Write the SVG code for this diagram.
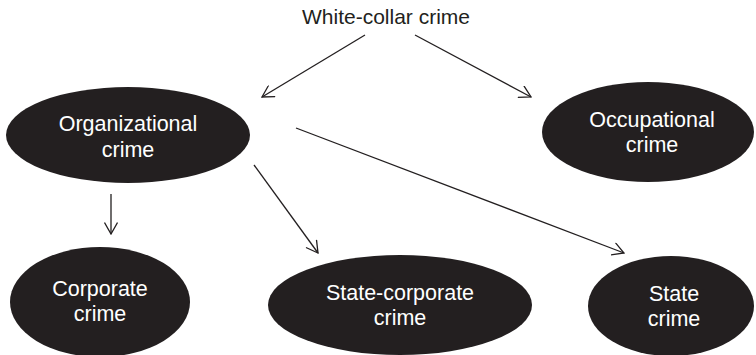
<svg xmlns="http://www.w3.org/2000/svg" width="756" height="355" viewBox="0 0 756 355">
<style>
.node ellipse{fill:#231f20;}
.node text{fill:#fff;font-family:"Liberation Sans",Arial,sans-serif;font-size:21.5px;text-anchor:middle;}
.title{fill:#231f20;font-family:"Liberation Sans",Arial,sans-serif;font-size:21px;text-anchor:middle;}
.conn line{stroke:#231f20;stroke-width:1.3;fill:none;marker-end:url(#arr);}
</style>
<defs>
<marker id="arr" viewBox="0 0 13 14" refX="12" refY="7" markerWidth="13" markerHeight="14" markerUnits="userSpaceOnUse" orient="auto">
<path d="M0.5,0.5 L12,7 L0.5,13.5" fill="none" stroke="#231f20" stroke-width="1.3"/>
</marker>
</defs>
<rect width="756" height="355" fill="#fff"/>
<g id="white-collar">
<text class="title" x="386" y="24">White-collar crime</text>
</g>
<g class="conn" id="connectors">
<line x1="365" y1="35" x2="262" y2="97"/>
<line x1="415" y1="35" x2="531" y2="97"/>
<line x1="111" y1="194" x2="111" y2="234"/>
<line x1="254" y1="165" x2="318" y2="253"/>
<line x1="296" y1="128" x2="624" y2="253"/>
</g>
<g class="node" id="organizational">
<ellipse cx="128" cy="135" rx="122" ry="48"/>
<text x="128" y="131">Organizational</text>
<text x="128" y="157">crime</text>
</g>
<g class="node" id="occupational">
<ellipse cx="648" cy="132" rx="106" ry="50"/>
<text x="652" y="127">Occupational</text>
<text x="652" y="152">crime</text>
</g>
<g class="node" id="corporate">
<ellipse cx="100" cy="302" rx="90" ry="55"/>
<text x="100" y="296">Corporate</text>
<text x="100" y="321">crime</text>
</g>
<g class="node" id="state-corporate">
<ellipse cx="400" cy="305" rx="132" ry="50"/>
<text x="400" y="300">State-corporate</text>
<text x="400" y="325">crime</text>
</g>
<g class="node" id="state">
<ellipse cx="671" cy="306" rx="83" ry="50"/>
<text x="674" y="301">State</text>
<text x="674" y="326">crime</text>
</g>
</svg>
